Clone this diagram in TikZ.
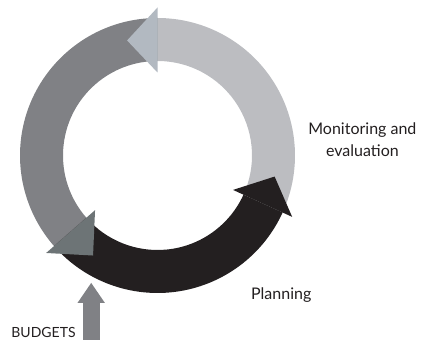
\documentclass[tikz,border=0pt]{standalone}
\usepackage{fontspec}
\setmainfont{Lato}
\usepackage{xcolor}
\usepackage{tikz}
\usetikzlibrary{arrows.meta}
\definecolor{cyclelight}{HTML}{BCBDC1}
\definecolor{cyclemid}{HTML}{808185}
\definecolor{cycledark}{HTML}{231F20}
\definecolor{tiplight}{HTML}{B2B9C1}
\definecolor{tipslate}{HTML}{6D7476}
% band of the ring between two angles
\newcommand{\cycleband}[3]{\fill[#1] (#2:137.5) arc[start angle=#2,end angle=#3,radius=137.5] -- (#3:94.5) arc[start angle=#3,end angle=#2,radius=94.5] -- cycle;}
% flat head at the end of a band
\newcommand{\cyclehead}[3]{\fill[#1] (#2:83) -- (#2:148) -- (#3:119) -- cycle;}

\begin{document}
\begin{tikzpicture}[x=1pt,y=1pt,font=\fontsize{16}{21.7}\selectfont,text=cycledark,
	budgetarrow/.style={draw=cyclemid,line width=17pt,-{Triangle[width=26pt,length=20.3pt]}}]
	\useasboundingbox (0,0) rectangle (423,340);
	%
	\begin{scope}[shift={(157.5,184.5)}]
		\cycleband{cyclelight}{-24.5}{90}
		\cycleband{cyclemid}{90}{221.2}
		\cycleband{cycledark}{221.2}{335.5}
		\cyclehead{tiplight}{90}{104.8}
		\cyclehead{cycledark}{335.5}{349.8}
		\cyclehead{tipslate}{221.2}{237.2}
	\end{scope}
	%
	\node[align=center] (monitor) at (362.4,200) {Monitoring and\\evaluation};
	\node[anchor=base] (plan) at (281.2,40.7) {Planning};
	\node[anchor=base,inner sep=1pt,font=\fontsize{14}{16}\selectfont] (budget) at (43.5,2.5) {BUDGETS};
	%
	\coordinate (budgetfoot) at (91.2,0);
	\coordinate (budgettip) at (91.2,57.3);
	\draw[budgetarrow] (budgetfoot) -- (budgettip);
\end{tikzpicture}
\end{document}
